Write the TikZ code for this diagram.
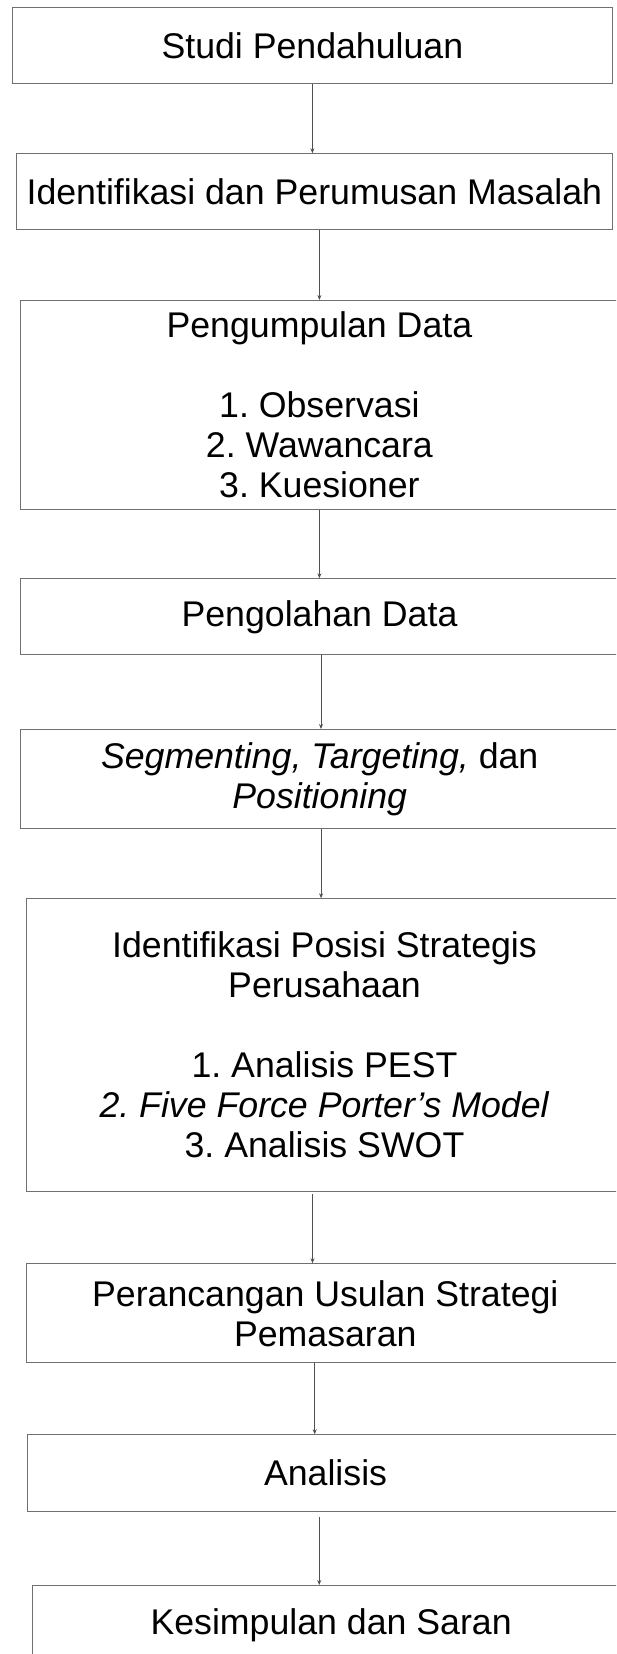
\documentclass[tikz,border=0pt]{standalone}
\usepackage{fontspec}
\setmainfont{Liberation Sans}
\usetikzlibrary{arrows.meta}
\definecolor{boxgray}{RGB}{112,112,112}
\definecolor{arrgray}{RGB}{80,80,80}
\frenchspacing
\begin{document}
\begin{tikzpicture}[x=1pt,y=1pt,
  box/.style={draw=boxgray, line width=1pt, anchor=north west, align=center, inner sep=0pt,
    font=\fontsize{35.7}{40}\selectfont\frenchspacing},
  arr/.style={draw=arrgray, line width=1pt, -{Stealth[length=5pt,width=4pt]}}]
\useasboundingbox (0,0) rectangle (616,-1654);
\clip (0,0) rectangle (616,-1654);
\fill[white] (0,0) rectangle (616,-1654);

\node[box, minimum width=600.2pt, minimum height=75.4pt] (b1) at (11.8,-7.3) {Studi Pendahuluan};
\node[box, minimum width=596.3pt, minimum height=76pt] (b2) at (15.7,-153.3) {Identifikasi dan Perumusan Masalah};
\node[box, minimum width=597pt, minimum height=208.7pt] (b3) at (20.4,-300) {Pengumpulan Data\\[40pt]1. Observasi\\2. Wawancara\\3. Kuesioner};
\node[box, minimum width=597.2pt, minimum height=76pt] (b4) at (20.4,-578.3) {Pengolahan Data};
\node[box, minimum width=597.6pt, minimum height=99.3pt] (b5) at (20.4,-729) {\textit{Segmenting, Targeting,} dan\\\textit{Positioning}};
\node[box, minimum width=595.4pt, minimum height=292.7pt] (b6) at (26.3,-898.3) {Identifikasi Posisi Strategis\\Perusahaan\\[40pt]1. Analisis PEST\\\textit{2. Five Force Porter’s Model}\\3. Analisis SWOT};
\node[box, minimum width=597pt, minimum height=99pt] (b7) at (26.3,-1263.3) {Perancangan Usulan Strategi\\Pemasaran};
\node[box, minimum width=596.7pt, minimum height=76.4pt] (b8) at (26.7,-1434.3) {Analisis};
\node[box, minimum width=596.7pt, minimum height=80pt] (b9) at (32.3,-1585) {Kesimpulan dan Saran};

\draw[arr] (b1.south) -- (b1.south |- b2.north);
\draw[arr] (b3.north |- b2.south) -- (b3.north);
\draw[arr] (b3.south) -- (b3.south |- b4.north);
\draw[arr] ([xshift=1.5pt]b4.south) -- ([xshift=1.5pt]b4.south |- b5.north);
\draw[arr] ([xshift=1.4pt]b5.south) -- ([xshift=1.4pt]b5.south |- b6.north);
\draw[arr, shorten <=2pt] ([xshift=-12pt]b6.south) -- ([xshift=-12pt]b6.south |- b7.north);
\draw[arr] ([xshift=-10.6pt]b7.south) -- ([xshift=-10.6pt]b7.south |- b8.north);
\draw[arr, shorten <=5pt] ([xshift=-6.3pt]b8.south) -- ([xshift=-6.3pt]b8.south |- b9.north);
\end{tikzpicture}
\end{document}
